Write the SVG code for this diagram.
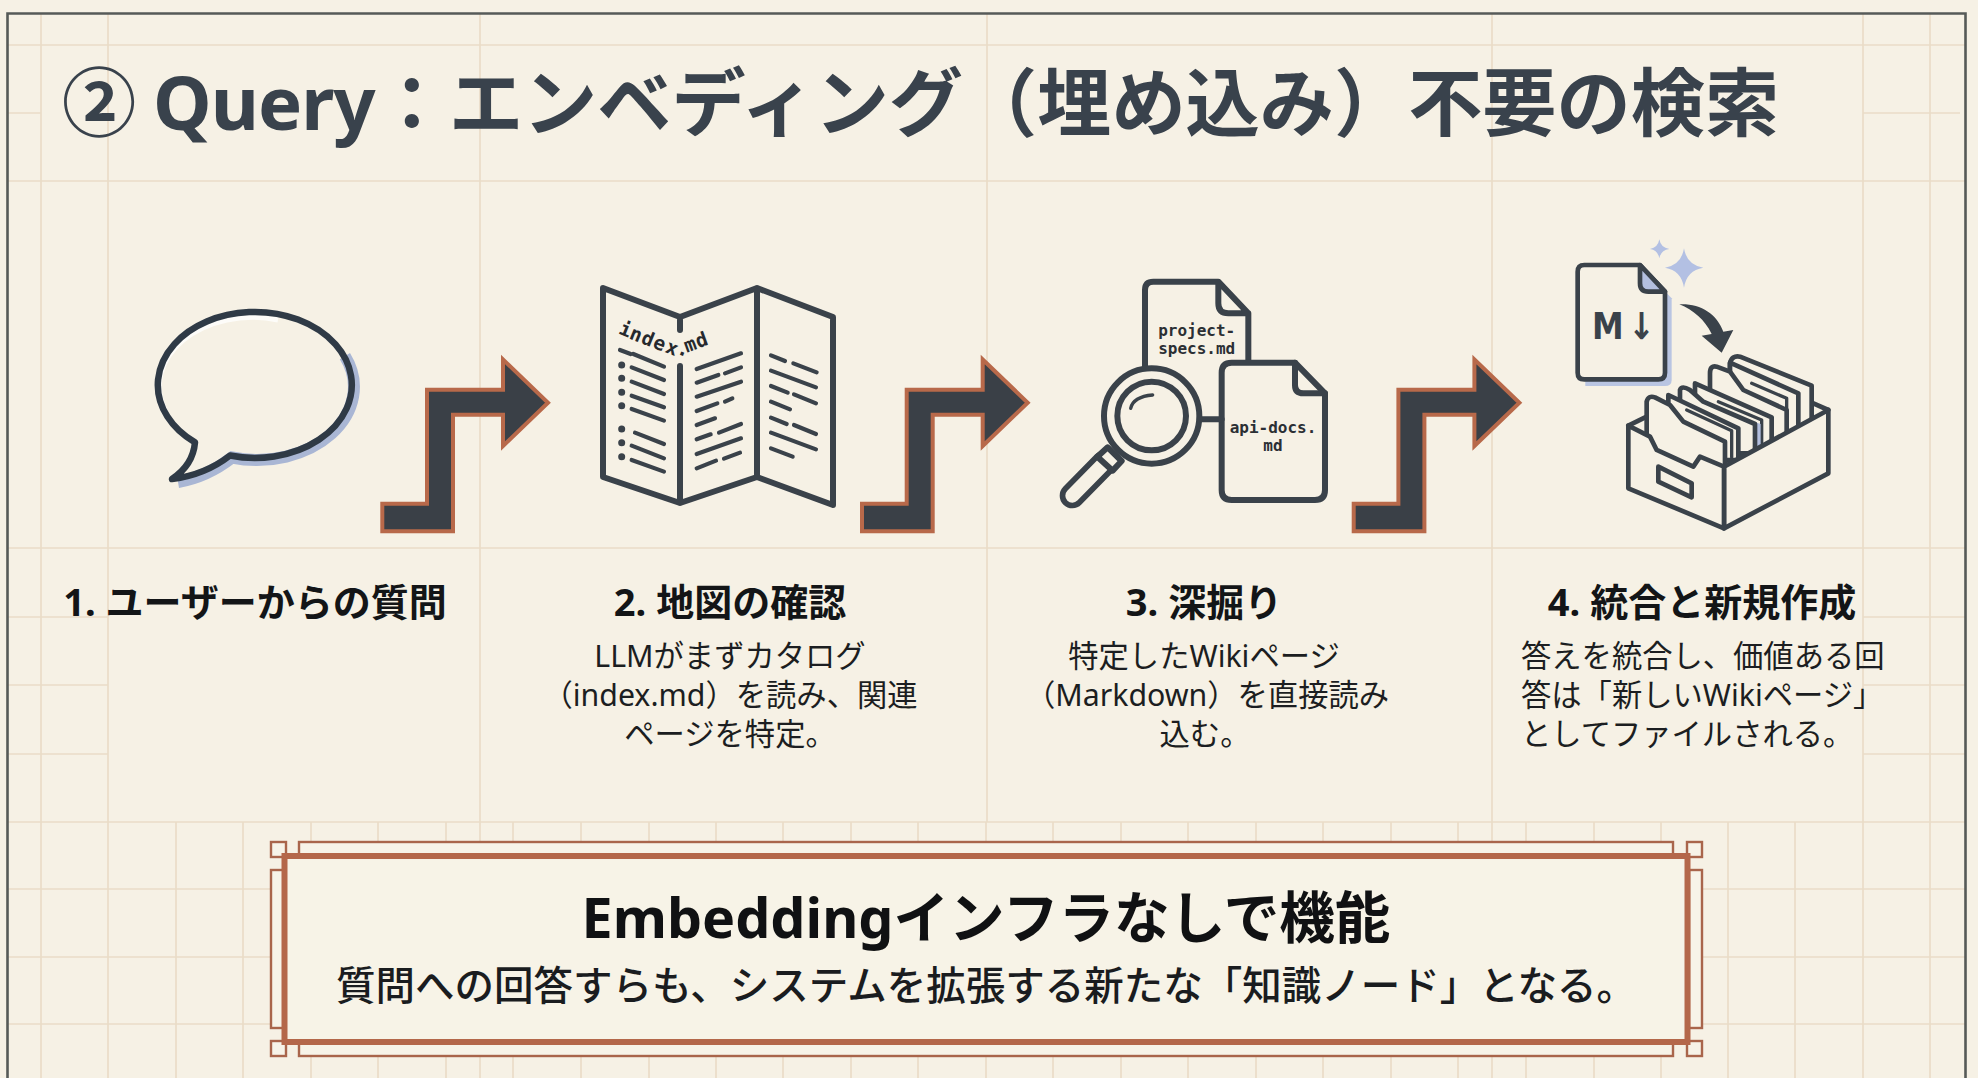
<svg xmlns="http://www.w3.org/2000/svg" width="1978" height="1078" viewBox="0 0 1978 1078">
<style>
text{font-family:"Noto Sans","Noto Sans CJK JP",sans-serif}
.cjk{font-family:"Noto Sans CJK JP","Noto Sans",sans-serif}
.title{font-size:74.2px;font-weight:700;fill:#39424c}
.head{font-size:38px;font-weight:700;fill:#131517;text-anchor:middle}
.body{font-size:30.3px;fill:#1c1e21;text-anchor:middle}
.bodyl{font-size:30.3px;fill:#1c1e21}
.mono{font-family:"DejaVu Sans Mono","Liberation Mono",monospace;font-size:16px;fill:#2b2f34;text-anchor:middle;font-weight:700}
.grid{fill:none;stroke:#eadcc8;stroke-width:1.7}
.ink{fill:none;stroke:#3a424a;stroke-linejoin:round;stroke-linecap:round}
.inkf{fill:#f6f1e5;stroke:#3a424a;stroke-linejoin:round;stroke-linecap:round}
.arrow{fill:#3a4047;stroke:#b8694a;stroke-width:4;stroke-linejoin:miter}
.thin{fill:#f7f3e8;stroke:#a9654b;stroke-width:2.4}
</style>
<defs>
<path id="step" d="M382.3,503.7 H427 V389.7 H503 V359.5 L548,402.7 L503,446 V414.7 H453 V531.3 H382.3 Z"/>
</defs>
<rect width="1978" height="1078" fill="#f6f1e5"/>
<path class="grid" d="M41,14V1078M108,14V1078M480,14V822M987,14V822M1492,14V822M1863,14V1078M1930,14V1078
M8,45H1965M8,181H1965M8,113H41M1863,113H1960M8,548H1965M8,617H108M8,685H108M8,754H108M1863,617H1965M1863,685H1965M1863,754H1965
M8,822H1965M8,889H1965M8,957H1965M8,1024H1965
M176,822V1078M243,822V1078M311,822V1078M378,822V1078M446,822V1078M480,822V1078M513,822V1078M581,822V1078M649,822V1078M716,822V1078M783,822V1078M851,822V1078M918,822V1078M986,822V1078M1053,822V1078M1121,822V1078M1188,822V1078M1256,822V1078M1323,822V1078M1391,822V1078M1458,822V1078M1492,822V1078M1526,822V1078M1594,822V1078M1661,822V1078M1728,822V1078M1795,822V1078"/>
<path d="M7.5,1078V13.5H1965.5V1078" fill="none" stroke="#565a58" stroke-width="2.6"/>

<g id="title"><text class="title" x="62" y="130">② <tspan dx="-2.5" letter-spacing="-1">Query</tspan>：エンベディング（埋め込み）不要の検索</text></g>

<g id="connectors">
<use href="#step" class="arrow"/>
<use href="#step" class="arrow" x="479.7"/>
<use href="#step" class="arrow" x="971.4"/>
</g>

<g id="node-1">
<path d="M195,442.4A97,73 0 1 1 230,455.5Q205,475 172,479Q193,465 195,442.4Z" fill="#f6f1e5"/>
<path d="M342.9,354.2A97,73 0 0 1 230,455.5Q205,475 176,480" fill="none" stroke="#a9b6d4" stroke-width="12" transform="translate(2,2)"/>
<path d="M166,412A93,69 0 0 1 278,320" fill="none" stroke="#fdfcf9" stroke-width="5"/>
<path d="M195,442.4A97,73 0 1 1 230,455.5Q205,475 172,479Q193,465 195,442.4Z" fill="none" stroke="#2f3a46" stroke-width="6.5" stroke-linejoin="round"/>
<text class="head" x="255" y="616">1. ユーザーからの質問</text>
</g>

<g id="node-2">
<path class="ink" stroke-width="6" d="M603,288L680,317L757,288L833,317V505L757,477L680,503L603,477ZM757,288V477M680,317V330M680,366V503"/>
<g transform="translate(580,270) scale(.33333)" class="ink" stroke-width="12.5">
<path d="M120,240L152,252M160,252L252,290M155,292L252,330M155,335L252,372M155,377L252,412M155,417L252,452M165,488L252,522M155,527L252,565M155,570L252,605"/>
<path stroke-width="21" d="M125,285h.1M125,325h.1M125,367h.1M125,407h.1M125,477h.1M125,518h.1M125,560h.1"/>
<path d="M350,297L483,250M350,338L415,315M435,310L483,292M350,380L483,335M350,423L412,400M435,395L457,385M350,465L405,445M350,508L392,493M417,488L483,462M350,552L483,505M350,595L408,572M432,566L480,548"/>
<path d="M573,256L615,273M640,280L710,307M573,302L708,352M573,348L623,368M642,373L708,400M573,395L630,418M573,443L620,462M642,465L708,492M573,488L708,538M573,535L638,560"/>
</g>
<text style="font-family:'DejaVu Sans Mono','Liberation Mono',monospace;font-size:19.5px;font-weight:700;fill:#26292d" x="617.7 628.3 640 651.7 664.3 676 686.7 698.3" y="333.3 338.3 342.7 347.3 351.7 353.3 352.7 348.3" rotate="22 22 22 22 22 22 -20 -20">index.md</text>
<text class="head" x="730" y="616">2. 地図の確認</text>
<text class="body" x="730" y="667">LLMがまずカタログ</text>
<text class="body" x="730" y="706">（index.md）を読み、関連</text>
<text class="body" x="730" y="745">ページを特定。</text>
</g>

<g id="node-3">
<g transform="translate(1040,260) scale(.33333)" stroke-width="18">
<path class="ink" d="M315,320V90Q315,65 340,65H535L625,160V300M535,65V130Q535,160 565,160H625"/>
<path class="inkf" d="M545,338Q545,308 575,308H765L855,400V690Q855,720 825,720H575Q545,720 545,690Z"/>
<path class="ink" d="M765,308V375Q765,400 790,400H855M485,478H545"/>
<path d="M192,610L97,707" fill="none" stroke="#3a424a" stroke-width="76" stroke-linecap="round"/>
<path d="M192,610L97,707" fill="none" stroke="#f6f1e5" stroke-width="42" stroke-linecap="round"/>
<path class="inkf" d="M203,562L245,603L218,632L172,590Z"/>
<circle class="inkf" cx="335" cy="468" r="143"/>
<circle class="inkf" cx="335" cy="468" r="103"/>
<path class="ink" stroke-width="10" d="M272,445Q280,410 338,405"/>
</g>
<text class="mono" x="1196.7" y="336">project-</text>
<text class="mono" x="1196.7" y="354.3">specs.md</text>
<text class="mono" x="1273" y="432.7">api-docs.</text>
<text class="mono" x="1273" y="450.7">md</text>
<text class="head" x="1204" y="616">3. 深掘り</text>
<text class="body" x="1204" y="667">特定したWikiページ</text>
<text class="body" x="1207" y="706">（Markdown）を直接読み</text>
<text class="body" x="1205" y="745">込む。</text>
</g>

<g id="node-4">
<g transform="translate(1340,220) scale(.33333)" stroke-width="14">
<path d="M1032,85Q1040,135 1090,143Q1040,151 1032,203Q1024,151 975,143Q1024,135 1032,85ZM958,58Q962,83 988,87Q962,91 958,115Q954,91 930,87Q954,83 958,58Z" fill="#b3c0e3"/>
<path d="M736,158H920L995,235V480Q995,498 975,498H736Z" fill="#b9c5e2"/>
<path class="inkf" d="M713,155Q713,135 733,135H900L975,215V458Q975,478 955,478H733Q713,478 713,458Z"/>
<path d="M900,135L975,215H925Q900,215 900,190Z" fill="#b3bfdf" stroke="#3a424a" stroke-width="14" stroke-linejoin="round"/>
<path fill="#3a424a" d="M1018,253C1080,250 1130,280 1150,335L1180,330L1145,398L1085,347L1115,342C1095,300 1060,270 1018,253Z"/>
<path class="ink" d="M865,617L920,590M1465,570L1415,548"/>
<path class="inkf" d="M1170,430Q1175,405 1200,410L1415,497V640H1170Z"/>
<path class="inkf" d="M1170,428L1375,520V660H1170Z"/>
<path class="ink" stroke-width="10" d="M1235,490L1340,535V625"/>
<path class="inkf" d="M1110,460Q1110,435 1130,440L1170,455L1210,510L1340,570V680H1110Z"/>
<path class="inkf" d="M1065,490L1295,592V690H1065Z"/>
<path class="ink" stroke-width="10" d="M1135,545L1265,600V670"/>
<path d="M1232,602L1262,612V680L1232,692Z" fill="#b3bfdf"/>
<path class="inkf" d="M1020,510Q1025,495 1050,510L1090,545L1245,612V700H1020Z"/>
<path class="inkf" d="M985,525L1195,625V720H985Z"/>
<path class="ink" stroke-width="10" d="M1040,570L1175,632V712"/>
<path class="inkf" d="M920,545Q925,525 945,532L990,555L1030,605L1155,665V740H920Z"/>
<path class="inkf" d="M1152,740L1465,570V760L1152,925Z"/>
<path class="inkf" d="M865,617L930,650L950,690L1060,740L1080,710L1152,740V925L865,805Z"/>
<path class="ink" d="M955,740L1055,790V832L955,785Z"/>
</g>
<text transform="translate(1592,339) scale(.86,1)" x="0 42" y="0" style="font-family:'DejaVu Sans',sans-serif;font-size:37px;font-weight:700;fill:#3a424a">M↓</text>
<text class="head" x="1702" y="616">4. 統合と新規作成</text>
<text class="bodyl" x="1521" y="667">答えを統合し、価値ある回</text>
<text class="bodyl" x="1521" y="706">答は「新しいWikiページ」</text>
<text class="bodyl" x="1521" y="745">としてファイルされる。</text>
</g>

<g id="summary">
<rect class="thin" x="299" y="842" width="1374" height="14"/>
<rect class="thin" x="299" y="1042" width="1374" height="14"/>
<rect class="thin" x="271" y="870" width="13" height="158"/>
<rect class="thin" x="1689" y="870" width="13" height="158"/>
<rect class="thin" x="271" y="842" width="15" height="15"/>
<rect class="thin" x="1687" y="842" width="15" height="15"/>
<rect class="thin" x="271" y="1041" width="15" height="15"/>
<rect class="thin" x="1687" y="1041" width="15" height="15"/>
<rect x="284.5" y="856" width="1403" height="186" fill="#f7f3e7" stroke="#b4674a" stroke-width="6"/>
<text x="986" y="938" text-anchor="middle" font-size="55.6" font-weight="700" fill="#101113">Embeddingインフラなしで機能</text>
<text x="336" y="1000" font-size="39.5" font-weight="500" fill="#1a1c1f" class="cjk">質問への回答すらも、システムを拡張する新たな「知識ノード」となる。</text>
</g>
</svg>
